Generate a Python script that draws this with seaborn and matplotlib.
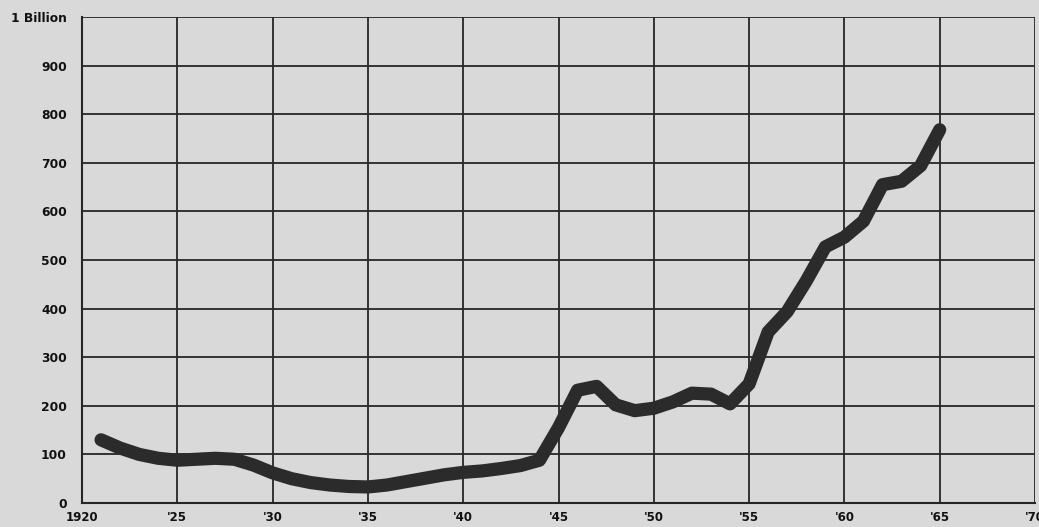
import matplotlib
matplotlib.use("Agg")
import matplotlib.pyplot as plt
import seaborn as sns
import pandas as pd

years = list(range(1921, 1966))
values = [130, 113, 100, 92, 88, 90, 92, 90, 78, 62,
          50, 42, 37, 34, 33, 37, 44, 51, 58, 63,
          66, 71, 77, 88, 155, 232, 240, 202, 190, 195,
          208, 226, 224, 204, 245, 352, 394, 457, 527, 547,
          580, 655, 662, 694, 768]

x_ticks = list(range(1920, 1975, 5))
x_labels = ["1920", "'25", "'30", "'35", "'40", "'45", "'50", "'55", "'60", "'65", "'70"]
y_ticks = list(range(0, 1100, 100))
y_labels = ["0", "100", "200", "300", "400", "500", "600", "700", "800", "900", "1 Billion"]

df = pd.DataFrame({"year": years, "value": values})

sns.set_style("whitegrid")
bg = "#d9d9d9"
ink = "#262626"
plt.rcParams["font.family"] = ["DejaVu Sans"]

fig = plt.figure(figsize=(10.39, 5.27), dpi=100, facecolor=bg)
ax = fig.add_axes([82 / 1039, 1 - 503 / 527, (1035 - 82) / 1039, (503 - 17) / 527])
ax.set_facecolor(bg)

sns.lineplot(data=df, x="year", y="value", ax=ax, color="#2b2b2b", linewidth=9.5,
             solid_capstyle="round", solid_joinstyle="round", zorder=5)

ax.set_xlim(1920, 1970)
ax.set_ylim(0, 1000)
ax.set_xticks(x_ticks)
ax.set_xticklabels(x_labels, fontsize=8.5, fontweight="heavy", color="#111")
ax.set_yticks(y_ticks)
ax.set_yticklabels(y_labels, fontsize=8.8, fontweight="heavy", color="#111")
ax.grid(True, color=ink, linewidth=1.3)
ax.tick_params(axis="both", length=5, width=1.3, color=ink, direction="out")
ax.tick_params(axis="y", pad=6)
ax.tick_params(axis="x", pad=1.5, length=4)
for lab in ax.get_xticklabels():
    lab.set_clip_on(False)
for s in ["left", "bottom"]:
    ax.spines[s].set_visible(True)
    ax.spines[s].set_color(ink)
    ax.spines[s].set_linewidth(1.5)
for s in ["top", "right"]:
    ax.spines[s].set_visible(False)
ax.set_xlabel("")
ax.set_ylabel("")

fig.savefig("out.png", dpi=100, facecolor=bg)
